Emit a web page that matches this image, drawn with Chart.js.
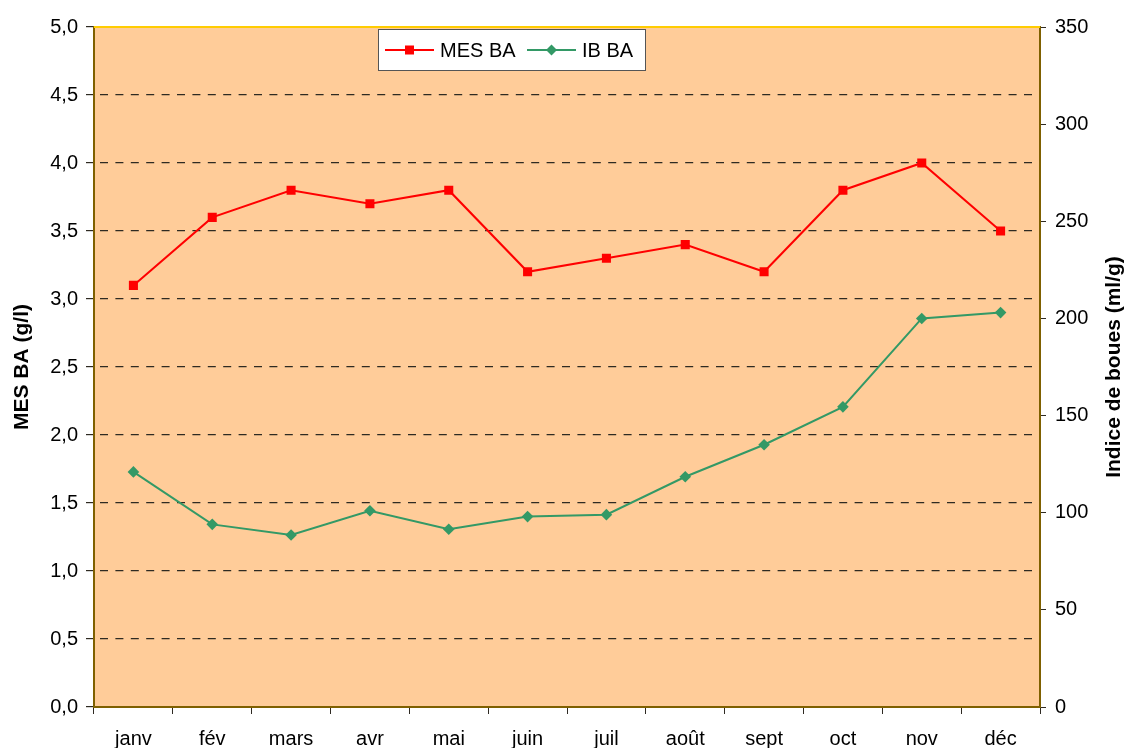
<!DOCTYPE html>
<html>
<head>
<meta charset="utf-8">
<script src="https://cdn.jsdelivr.net/npm/chart.js@4"></script>
<style>
  html, body { margin: 0; padding: 0; background: #ffffff; }
  #wrap { width: 1128px; height: 748px; }
</style>
</head>
<body>
<div id="wrap"><canvas id="c" width="1128" height="748"></canvas></div>
<script>
// ---- data ----
const months = ['janv', 'fév', 'mars', 'avr', 'mai', 'juin', 'juil', 'août', 'sept', 'oct', 'nov', 'déc'];
const mesBA = [3.1, 3.6, 3.8, 3.7, 3.8, 3.2, 3.3, 3.4, 3.2, 3.8, 4.0, 3.5];
const ibBA = [121, 94, 88.5, 101, 91.5, 98, 99, 118.5, 135, 154.5, 200, 203];
const seriesNames = ['MES BA', 'IB BA'];
const leftTitle = 'MES BA (g/l)';
const rightTitle = 'Indice de boues (ml/g)';

const FONT = "'Liberation Sans', Arial, sans-serif";
const RED = '#FF0000';
const GREEN = '#339966';
const AXIS = '#7F6000';
const GRID = '#2e2a22';

const plotBg = {
  id: 'plotBg',
  beforeDraw(chart) {
    const { ctx, chartArea: a } = chart;
    ctx.save();
    ctx.fillStyle = '#FFCC99';
    ctx.fillRect(a.left, a.top, a.right - a.left, a.bottom - a.top);
    ctx.restore();
  },
  afterDraw(chart) {
    const { ctx, chartArea: a } = chart;
    ctx.save();
    ctx.strokeStyle = '#FFCC00';
    ctx.lineWidth = 2;
    ctx.beginPath();
    ctx.moveTo(a.left, a.top);
    ctx.lineTo(a.right, a.top);
    ctx.stroke();
    ctx.restore();
  }
};

const rightTitlePlugin = {
  id: 'rightTitle',
  afterDraw(chart) {
    const { ctx, chartArea: a } = chart;
    ctx.save();
    ctx.translate(1114, (a.top + a.bottom) / 2);
    ctx.rotate(-Math.PI / 2);
    ctx.font = 'bold 21px ' + FONT;
    ctx.fillStyle = '#000';
    ctx.textAlign = 'center';
    ctx.textBaseline = 'middle';
    ctx.fillText(rightTitle, 0, 0);
    ctx.restore();
  }
};

const legendBox = {
  id: 'legendBox',
  afterDraw(chart) {
    const { ctx } = chart;
    const x = 378, y = 29, w = 268, h = 42, cy = y + h / 2;
    ctx.save();
    ctx.fillStyle = '#ffffff';
    ctx.fillRect(x, y, w, h);
    ctx.strokeStyle = '#555555';
    ctx.lineWidth = 1;
    ctx.strokeRect(x + 0.5, y + 0.5, w - 1, h - 1);
    ctx.font = '20px ' + FONT;
    ctx.textBaseline = 'middle';
    ctx.textAlign = 'left';
    const items = chart.data.datasets.map(d => ({ label: d.label, color: d.borderColor, style: d.pointStyle }));
    const starts = [385, 527];
    items.forEach((it, i) => {
      const sx = starts[i];
      ctx.strokeStyle = it.color;
      ctx.lineWidth = 2;
      ctx.beginPath();
      ctx.moveTo(sx, cy);
      ctx.lineTo(sx + 49, cy);
      ctx.stroke();
      ctx.fillStyle = it.color;
      const mx = sx + 24.5;
      if (it.style === 'rect') {
        ctx.fillRect(mx - 4.5, cy - 4.5, 9, 9);
      } else {
        ctx.beginPath();
        ctx.moveTo(mx, cy - 5.5);
        ctx.lineTo(mx + 5.5, cy);
        ctx.lineTo(mx, cy + 5.5);
        ctx.lineTo(mx - 5.5, cy);
        ctx.closePath();
        ctx.fill();
      }
      ctx.fillStyle = '#000';
      ctx.fillText(it.label, sx + 55, cy + 1);
    });
    ctx.restore();
  }
};

new Chart(document.getElementById('c'), {
  type: 'line',
  data: {
    labels: months,
    datasets: [
      {
        label: seriesNames[0],
        data: mesBA,
        yAxisID: 'y',
        borderColor: RED,
        backgroundColor: RED,
        borderWidth: 2,
        pointStyle: 'rect',
        pointRadius: 6.4,
        pointBorderWidth: 0,
        tension: 0
      },
      {
        label: seriesNames[1],
        data: ibBA,
        yAxisID: 'y1',
        borderColor: GREEN,
        backgroundColor: GREEN,
        borderWidth: 2,
        pointStyle: 'rectRot',
        pointRadius: 5.8,
        pointBorderWidth: 0,
        tension: 0
      }
    ]
  },
  options: {
    responsive: false,
    animation: false,
    devicePixelRatio: 1,
    layout: { padding: { top: 27, left: 0, right: 0, bottom: 0 } },
    plugins: {
      legend: { display: false },
      tooltip: { enabled: false }
    },
    scales: {
      x: {
        type: 'category',
        offset: true,
        afterFit(s) { s.height = 41; },
        grid: {
          offset: true,
          drawOnChartArea: false,
          drawTicks: true,
          tickLength: 7,
          tickColor: GRID,
          lineWidth: 1
        },
        border: { color: AXIS, width: 2 },
        ticks: {
          color: '#000',
          font: { family: FONT, size: 20 },
          padding: 13,
          maxRotation: 0,
          autoSkip: false
        }
      },
      y: {
        position: 'left',
        min: 0,
        max: 5,
        afterFit(s) { s.width = 94; },
        ticks: {
          stepSize: 0.5,
          color: '#000',
          font: { family: FONT, size: 20 },
          padding: 8,
          callback: v => v.toFixed(1).replace('.', ',')
        },
        grid: {
          color: c => (c.tick && (c.tick.value === 0 || c.tick.value === 5)) ? 'rgba(0,0,0,0)' : GRID,
          tickBorderDash: [],
          tickColor: GRID,
          tickLength: 8,
          lineWidth: 1.2
        },
        border: { color: AXIS, width: 2, dash: [8, 7.4], dashOffset: -5 },
        title: {
          display: true,
          text: leftTitle,
          color: '#000',
          font: { family: FONT, size: 21, weight: 'bold' },
          padding: { top: 10, bottom: 0 }
        }
      },
      y1: {
        position: 'right',
        min: 0,
        max: 350,
        afterFit(s) { s.width = 88; },
        ticks: {
          stepSize: 50,
          color: '#000',
          font: { family: FONT, size: 20 },
          padding: 9
        },
        grid: {
          drawOnChartArea: false,
          tickColor: GRID,
          tickLength: 6
        },
        border: { color: AXIS, width: 2 }
      }
    }
  },
  plugins: [plotBg, rightTitlePlugin, legendBox]
});
</script>
</body>
</html>
